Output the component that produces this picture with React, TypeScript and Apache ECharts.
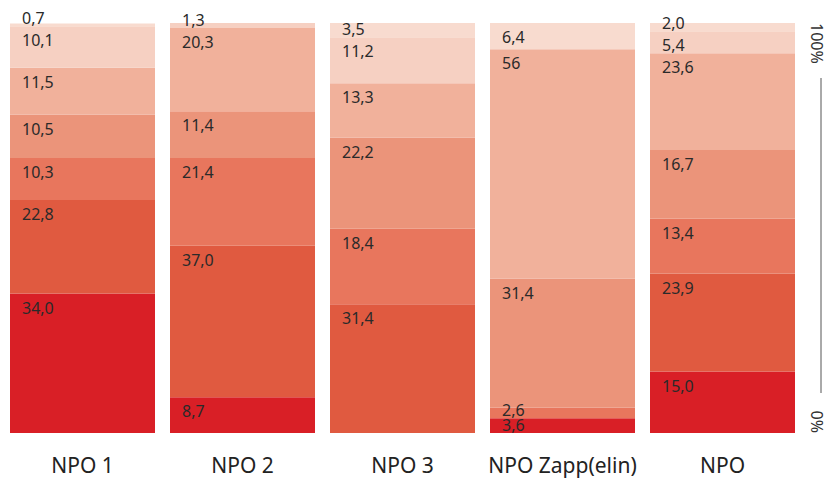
import React, { useEffect, useRef } from "react";
import * as echarts from "echarts";

const categories = ["NPO 1", "NPO 2", "NPO 3", "NPO Zapp(elin)", "NPO"];

// Segments from bottom (darkest) to top (lightest); "" = no segment
const seg1 = ["34,0", "8,7", "", "3,6", "15,0"];
const seg2 = ["22,8", "37,0", "31,4", "", "23,9"];
const seg3 = ["10,3", "21,4", "18,4", "2,6", "13,4"];
const seg4 = ["10,5", "11,4", "22,2", "31,4", "16,7"];
const seg5 = ["11,5", "20,3", "13,3", "56", "23,6"];
const seg6 = ["10,1", "1,3", "11,2", "", "5,4"];
const seg7 = ["0,7", "", "3,5", "6,4", "2,0"];

const segments = [seg1, seg2, seg3, seg4, seg5, seg6, seg7];
const colors = ["#d91f26", "#e05a40", "#e8765d", "#eb947a", "#f1b19b", "#f6d0c2", "#f8dbcf"];

const rightTicks = ["100%", "0%"];

const FONT = "'Noto Sans', sans-serif";
const PLOT_H = 410;

const toNum = (s: string) => (s === "" ? 0 : parseFloat(s.replace(",", ".")));

export default function App() {
  const ref = useRef<HTMLDivElement>(null);
  useEffect(() => {
    if (!ref.current) return;
    const chart = echarts.init(ref.current, undefined, { renderer: "svg" });
    const series = segments.map((seg, i) => ({
      type: "bar",
      stack: "total",
      barWidth: 145,
      silent: true,
      itemStyle: { color: colors[i] },
      data: seg.map((s) => {
        const v = toNum(s);
        const h = (v / 100) * PLOT_H;
        return {
          value: v,
          label: {
            show: s !== "",
            formatter: s,
            position: [12, Math.min(6, h - 16)],
          },
        };
      }),
      label: {
        show: true,
        color: "#2a2a2a",
        fontSize: 16,
        lineHeight: 16,
        fontFamily: FONT,
      },
    }));
    chart.setOption({
      animation: false,
      grid: { left: 2.5, right: 22.5, top: 23, bottom: 45 },
      xAxis: {
        type: "category",
        data: categories,
        axisLine: { show: false },
        axisTick: { show: false },
        axisLabel: { interval: 0, fontSize: 21, color: "#222", margin: 21, fontFamily: FONT },
      },
      yAxis: { type: "value", min: 0, max: 100, show: false },
      series,
      graphic: [
        {
          type: "text",
          x: 817,
          y: 23,
          rotation: -Math.PI / 2,
          style: {
            text: rightTicks[0],
            fontSize: 16,
            fontFamily: FONT,
            fill: "#333",
            align: "left",
            verticalAlign: "middle",
          },
        },
        {
          type: "text",
          x: 817,
          y: 433,
          rotation: -Math.PI / 2,
          style: {
            text: rightTicks[1],
            fontSize: 16,
            fontFamily: FONT,
            fill: "#333",
            align: "right",
            verticalAlign: "middle",
          },
        },
        {
          type: "line",
          shape: { x1: 821, y1: 78, x2: 821, y2: 393 },
          style: { stroke: "#555", lineWidth: 1 },
        },
      ],
    });
    return () => chart.dispose();
  }, []);
  return (
    <div
      ref={ref}
      style={{ position: "absolute", left: 0, top: 0, width: 825, height: 478 }}
    />
  );
}
